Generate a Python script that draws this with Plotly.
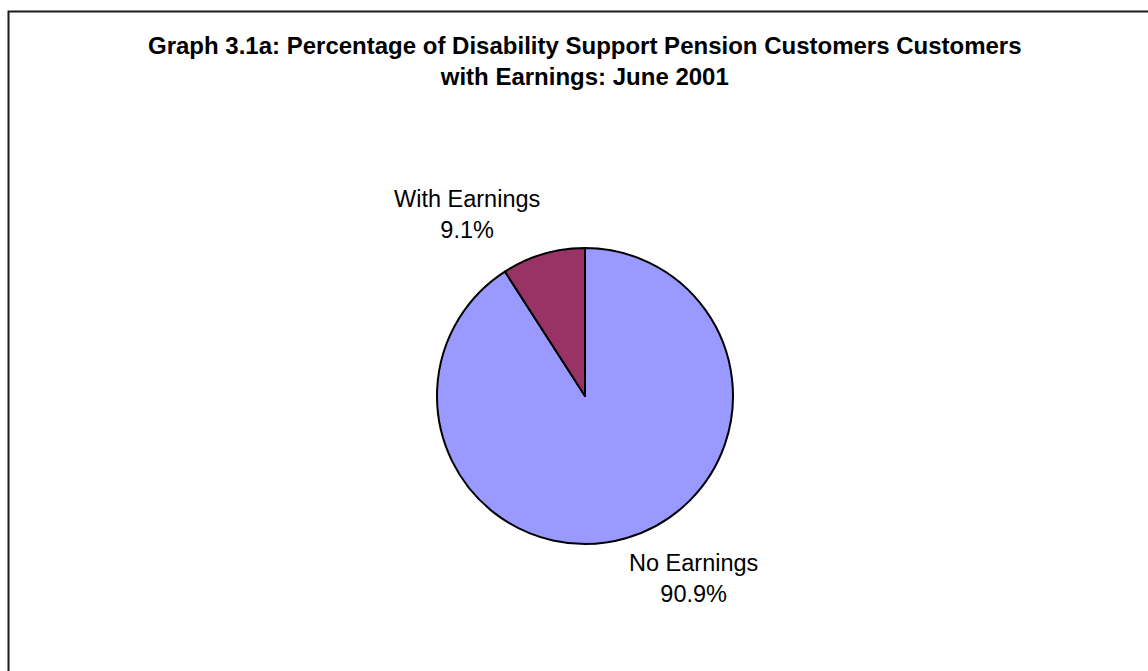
import plotly.graph_objects as go

# Share of Disability Support Pension customers by earnings status, June 2001
categories = ["No Earnings", "With Earnings"]
percentages = [90.9, 9.1]
slice_colors = ["#9999FF", "#993366"]

title_lines = [
    "Graph 3.1a: Percentage of Disability Support Pension Customers Customers",
    "with Earnings: June 2001",
]

W, H = 1148, 671
FONT = "Liberation Sans, Arial, sans-serif"

# pie placement in pixels (centre and radius)
cx, cy, r = 585, 396, 148

fig = go.Figure(
    go.Pie(
        labels=categories,
        values=percentages,
        sort=False,
        direction="clockwise",
        rotation=0,
        marker=dict(colors=slice_colors, line=dict(color="#000000", width=2)),
        textinfo="none",
        hoverinfo="skip",
        showlegend=False,
        domain=dict(
            x=[(cx - r) / W, (cx + r) / W],
            y=[1 - (cy + r) / H, 1 - (cy - r) / H],
        ),
    )
)

# label positions (pixel centres of each two-line label)
label_pos = {"With Earnings": (467, 214), "No Earnings": (693, 578)}

annotations = []
for name, pct in zip(categories, percentages):
    px, py = label_pos[name]
    annotations.append(
        dict(
            text=f"{name}<br>{pct:.1f}%",
            x=px / W,
            y=1 - py / H,
            xref="paper",
            yref="paper",
            xanchor="center",
            yanchor="middle",
            showarrow=False,
            align="center",
            font=dict(family=FONT, size=23.5, color="#000000"),
        )
    )

annotations.append(
    dict(
        text="<b>" + "<br>".join(title_lines) + "</b>",
        x=585 / W,
        y=1 - 61 / H,
        xref="paper",
        yref="paper",
        xanchor="center",
        yanchor="middle",
        showarrow=False,
        align="center",
        font=dict(family=FONT, size=24, color="#000000"),
    )
)

fig.update_layout(
    width=W,
    height=H,
    margin=dict(l=0, r=0, t=0, b=0),
    paper_bgcolor="#FFFFFF",
    plot_bgcolor="#FFFFFF",
    annotations=annotations,
    shapes=[
        dict(
            type="rect",
            xref="paper",
            yref="paper",
            x0=8.5 / W,
            x1=1.05,
            y0=-0.05,
            y1=1 - 11.5 / H,
            line=dict(color="#1a1a1a", width=2),
            fillcolor="rgba(0,0,0,0)",
        )
    ],
)

fig.write_html("out.html")
